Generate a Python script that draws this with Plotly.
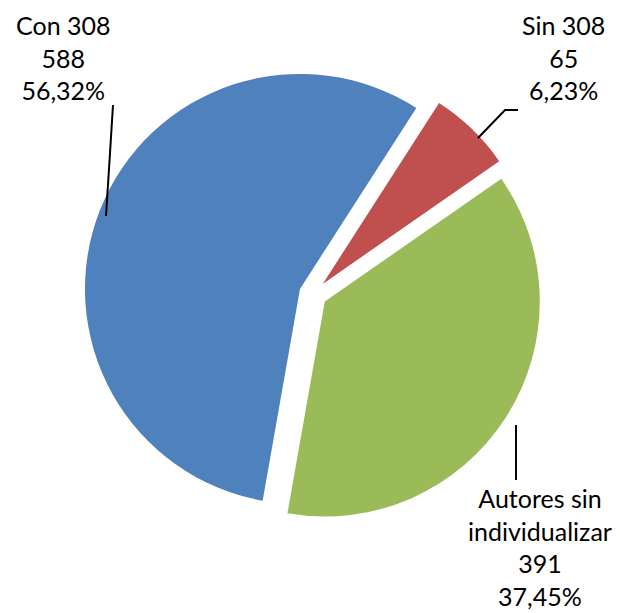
import plotly.graph_objects as go

# Datos del gráfico
categorias = ["Con 308", "Sin 308", "Autores sin individualizar"]
valores = [588, 65, 391]
porcentajes = ["56,32%", "6,23%", "37,45%"]
colores = ['#4F81BD', '#C0504D', '#9BBB59']

fig = go.Figure(go.Pie(
    labels=categorias,
    values=valores,
    sort=False,
    direction='clockwise',
    rotation=190,
    pull=[0.065, 0.065, 0.065],
    marker=dict(colors=colores, line=dict(width=0)),
    textinfo='none',
    hoverinfo='label+value+percent',
    domain=dict(x=[0.1226, 0.8613], y=[0.1599, 0.907]),
    showlegend=False,
))

# Etiquetas de datos (estilo Excel) con líneas guía
label_text = [
    f"{categorias[0]}<br>{valores[0]}<br>{porcentajes[0]}",
    f"{categorias[1]}<br>{valores[1]}<br>{porcentajes[1]}",
    f"Autores sin<br>individualizar<br>{valores[2]}<br>{porcentajes[2]}",
]
label_pos = [(55, 50), (555, 50), (532, 539)]  # pixel centres

W, H = 620, 613
for txt, (px, py) in zip(label_text, label_pos):
    fig.add_annotation(
        x=px / W, y=1 - py / H, xref='paper', yref='paper',
        text=txt, showarrow=False, align='center',
        xanchor='center', yanchor='middle',
        font=dict(family='Lato, Carlito, sans-serif', size=25, color='black'),
    )

leaders = [
    [(105, 97), (98, 208)],
    [(510, 102), (497, 102), (470, 130)],
    [(508, 417), (508, 472)],
]
for pts in leaders:
    path = "M " + " L ".join(f"{x/W:.4f},{1 - y/H:.4f}" for x, y in pts)
    fig.add_shape(type='path', path=path, xref='paper', yref='paper',
                  line=dict(color='black', width=2))

fig.update_layout(
    width=W, height=H,
    margin=dict(l=0, r=0, t=0, b=0),
    paper_bgcolor='white',
    plot_bgcolor='white',
)

fig.write_html("out.html")
